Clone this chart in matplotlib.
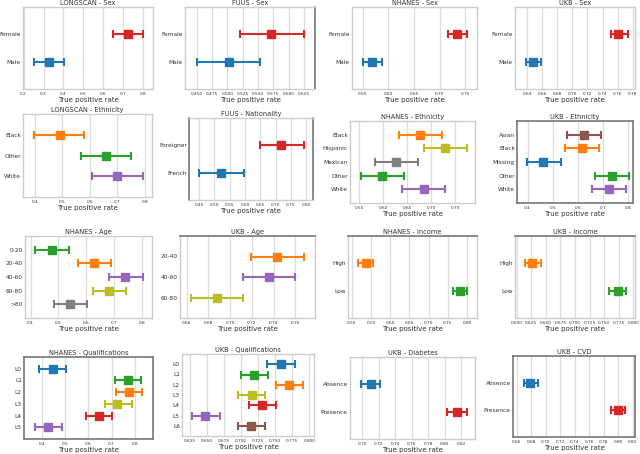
import matplotlib
matplotlib.use('Agg')
import matplotlib.pyplot as plt

# --- data (centre, lower, upper of true positive rate) ---
longscan_sex_labels = ['Female', 'Male']
longscan_sex_mid = [0.724, 0.326]
longscan_sex_lo = [0.647, 0.252]
longscan_sex_hi = [0.799, 0.402]
longscan_sex_ticks = ['0.2', '0.3', '0.4', '0.5', '0.6', '0.7', '0.8']

fuus_sex_labels = ['Female', 'Male']
fuus_sex_mid = [0.572, 0.502]
fuus_sex_lo = [0.521, 0.450]
fuus_sex_hi = [0.625, 0.553]
fuus_sex_ticks = ['0.450', '0.475', '0.500', '0.525', '0.550', '0.575', '0.600', '0.625']

nhanes_sex_labels = ['Female', 'Male']
nhanes_sex_mid = [0.733, 0.569]
nhanes_sex_lo = [0.716, 0.550]
nhanes_sex_hi = [0.753, 0.588]
nhanes_sex_ticks = ['0.55', '0.60', '0.65', '0.70', '0.75']

ukb_sex_labels = ['Female', 'Male']
ukb_sex_mid = [0.761, 0.648]
ukb_sex_lo = [0.751, 0.638]
ukb_sex_hi = [0.774, 0.659]
ukb_sex_ticks = ['0.64', '0.66', '0.68', '0.70', '0.72', '0.74', '0.76', '0.78']

longscan_eth_labels = ['Black', 'Other', 'White']
longscan_eth_mid = [0.491, 0.660, 0.701]
longscan_eth_lo = [0.398, 0.568, 0.608]
longscan_eth_hi = [0.579, 0.751, 0.794]
longscan_eth_ticks = ['0.4', '0.5', '0.6', '0.7', '0.8']

fuus_nat_labels = ['Foreigner', 'French']
fuus_nat_mid = [0.718, 0.523]
fuus_nat_lo = [0.648, 0.450]
fuus_nat_hi = [0.791, 0.596]
fuus_nat_ticks = ['0.45', '0.50', '0.55', '0.60', '0.65', '0.70', '0.75', '0.80']

nhanes_eth_labels = ['Black', 'Hispanic', 'Mexican', 'Other', 'White']
nhanes_eth_mid = [0.677, 0.729, 0.627, 0.598, 0.684]
nhanes_eth_lo = [0.632, 0.684, 0.582, 0.553, 0.639]
nhanes_eth_hi = [0.722, 0.774, 0.672, 0.644, 0.729]
nhanes_eth_ticks = ['0.55', '0.60', '0.65', '0.70', '0.75']

ukb_eth_labels = ['Asian', 'Black', 'Missing', 'Other', 'White']
ukb_eth_mid = [0.624, 0.617, 0.463, 0.735, 0.722]
ukb_eth_lo = [0.555, 0.549, 0.397, 0.667, 0.654]
ukb_eth_hi = [0.693, 0.684, 0.532, 0.803, 0.790]
ukb_eth_ticks = ['0.4', '0.5', '0.6', '0.7', '0.8']

nhanes_age_labels = ['0-20', '20-40', '40-60', '60-80', '>80']
nhanes_age_mid = [0.478, 0.629, 0.740, 0.682, 0.543]
nhanes_age_lo = [0.416, 0.569, 0.680, 0.623, 0.483]
nhanes_age_hi = [0.538, 0.689, 0.802, 0.743, 0.603]
nhanes_age_ticks = ['0.4', '0.5', '0.6', '0.7', '0.8']

ukb_age_labels = ['20-40', '40-60', '60-80']
ukb_age_mid = [0.743, 0.736, 0.688]
ukb_age_lo = [0.719, 0.712, 0.664]
ukb_age_hi = [0.768, 0.760, 0.712]
ukb_age_ticks = ['0.66', '0.68', '0.70', '0.72', '0.74', '0.76']

nhanes_inc_labels = ['High', 'Low']
nhanes_inc_mid = [0.536, 0.782]
nhanes_inc_lo = [0.517, 0.763]
nhanes_inc_hi = [0.555, 0.800]
nhanes_inc_ticks = ['0.50', '0.55', '0.60', '0.65', '0.70', '0.75', '0.80']

ukb_inc_labels = ['High', 'Low']
ukb_inc_mid = [0.627, 0.773]
ukb_inc_lo = [0.614, 0.759]
ukb_inc_hi = [0.642, 0.787]
ukb_inc_ticks = ['0.600', '0.625', '0.650', '0.675', '0.700', '0.725', '0.750', '0.775', '0.800']

nhanes_qual_labels = ['L0', 'L1', 'L2', 'L3', 'L4', 'L5']
nhanes_qual_mid = [0.445, 0.771, 0.776, 0.725, 0.646, 0.426]
nhanes_qual_lo = [0.387, 0.714, 0.718, 0.671, 0.591, 0.368]
nhanes_qual_hi = [0.502, 0.829, 0.833, 0.786, 0.702, 0.485]
nhanes_qual_ticks = ['0.4', '0.5', '0.6', '0.7', '0.8']

ukb_qual_labels = ['L0', 'L1', 'L2', 'L3', 'L4', 'L5', 'L6']
ukb_qual_mid = [0.759, 0.720, 0.771, 0.716, 0.731, 0.648, 0.715]
ukb_qual_lo = [0.739, 0.700, 0.751, 0.696, 0.712, 0.628, 0.696]
ukb_qual_hi = [0.779, 0.740, 0.791, 0.736, 0.751, 0.669, 0.736]
ukb_qual_ticks = ['0.625', '0.650', '0.675', '0.700', '0.725', '0.750', '0.775', '0.800']

ukb_diab_labels = ['Absence', 'Presence']
ukb_diab_mid = [0.710, 0.815]
ukb_diab_lo = [0.698, 0.803]
ukb_diab_hi = [0.722, 0.827]
ukb_diab_ticks = ['0.70', '0.72', '0.74', '0.76', '0.78', '0.80', '0.82']

ukb_cvd_labels = ['Absence', 'Presence']
ukb_cvd_mid = [0.679, 0.799]
ukb_cvd_lo = [0.670, 0.790]
ukb_cvd_hi = [0.689, 0.809]
ukb_cvd_ticks = ['0.66', '0.68', '0.70', '0.72', '0.74', '0.76', '0.78', '0.80', '0.82']

# --- styles ---
BLUE, ORANGE, GREEN, RED = '#1f77b4', '#ff7f0e', '#2ca02c', '#d62728'
PURPLE, BROWN, GRAY, OLIVE = '#9467bd', '#8c564b', '#7f7f7f', '#bcbd22'

W, H = 640, 454

# title, labels, mid, lo, hi, ticks, colours, xlim, box (left, top, right, bottom px), dark spines
panels = [
    ('LONGSCAN - Sex', longscan_sex_labels, longscan_sex_mid, longscan_sex_lo, longscan_sex_hi,
     longscan_sex_ticks, [RED, BLUE], (0.197, 0.85), (23, 7, 153, 89), []),
    ('FUUS - Sex', fuus_sex_labels, fuus_sex_mid, fuus_sex_lo, fuus_sex_hi,
     fuus_sex_ticks, [RED, BLUE], (0.431, 0.643), (185, 7, 315, 89), ['right']),
    ('NHANES - Sex', nhanes_sex_labels, nhanes_sex_mid, nhanes_sex_lo, nhanes_sex_hi,
     nhanes_sex_ticks, [RED, BLUE], (0.529, 0.773), (352, 7, 477, 89), []),
    ('UKB - Sex', ukb_sex_labels, ukb_sex_mid, ukb_sex_lo, ukb_sex_hi,
     ukb_sex_ticks, [RED, BLUE], (0.624, 0.783), (515, 7, 635, 89), []),
    ('LONGSCAN - Ethnicity', longscan_eth_labels, longscan_eth_mid, longscan_eth_lo, longscan_eth_hi,
     longscan_eth_ticks, [ORANGE, GREEN, PURPLE], (0.357, 0.827), (23, 114, 152, 197), []),
    ('FUUS - Nationality', fuus_nat_labels, fuus_nat_mid, fuus_nat_lo, fuus_nat_hi,
     fuus_nat_ticks, [RED, BLUE], (0.417, 0.822), (189, 118, 313, 200), ['left', 'right']),
    ('NHANES - Ethnicity', nhanes_eth_labels, nhanes_eth_mid, nhanes_eth_lo, nhanes_eth_hi,
     nhanes_eth_ticks, [ORANGE, OLIVE, GRAY, GREEN, PURPLE], (0.531, 0.791), (350, 121, 475, 203), []),
    ('UKB - Ethnicity', ukb_eth_labels, ukb_eth_mid, ukb_eth_lo, ukb_eth_hi,
     ukb_eth_ticks, [BROWN, ORANGE, BLUE, GREEN, PURPLE], (0.358, 0.818), (517, 121, 633, 203),
     ['left', 'right', 'top', 'bottom']),
    ('NHANES - Age', nhanes_age_labels, nhanes_age_mid, nhanes_age_lo, nhanes_age_hi,
     nhanes_age_ticks, [GREEN, ORANGE, PURPLE, OLIVE, GRAY], (0.380, 0.836), (25, 236, 152, 318), []),
    ('UKB - Age', ukb_age_labels, ukb_age_mid, ukb_age_lo, ukb_age_hi,
     ukb_age_ticks, [ORANGE, PURPLE, OLIVE], (0.654, 0.778), (180, 236, 315, 318), ['top']),
    ('NHANES - Income', nhanes_inc_labels, nhanes_inc_mid, nhanes_inc_lo, nhanes_inc_hi,
     nhanes_inc_ticks, [ORANGE, GREEN], (0.490, 0.826), (348, 236, 477, 318), ['top']),
    ('UKB - Income', ukb_inc_labels, ukb_inc_mid, ukb_inc_lo, ukb_inc_hi,
     ukb_inc_ticks, [ORANGE, GREEN], (0.597, 0.803), (515, 236, 635, 318), ['top']),
    ('NHANES - Qualifications', nhanes_qual_labels, nhanes_qual_mid, nhanes_qual_lo, nhanes_qual_hi,
     nhanes_qual_ticks, [BLUE, GREEN, ORANGE, OLIVE, RED, PURPLE], (0.321, 0.879), (24, 357, 153, 439),
     ['left', 'right', 'top', 'bottom']),
    ('UKB - Qualifications', ukb_qual_labels, ukb_qual_mid, ukb_qual_lo, ukb_qual_hi,
     ukb_qual_ticks, [BLUE, GREEN, ORANGE, OLIVE, RED, PURPLE, BROWN], (0.614, 0.807), (182, 354, 314, 436), []),
    ('UKB - Diabetes', ukb_diab_labels, ukb_diab_mid, ukb_diab_lo, ukb_diab_hi,
     ukb_diab_ticks, [BLUE, RED], (0.685, 0.837), (350, 357, 475, 439), []),
    ('UKB - CVD', ukb_cvd_labels, ukb_cvd_mid, ukb_cvd_lo, ukb_cvd_hi,
     ukb_cvd_ticks, [BLUE, RED], (0.655, 0.823), (513, 356, 635, 437), ['left', 'right', 'top', 'bottom']),
]

plt.rcParams['font.family'] = ['DejaVu Sans']
fig = plt.figure(figsize=(W / 100, H / 100), dpi=100)
fig.patch.set_facecolor('white')

for title, labels, mid, lo, hi, ticks, colours, xlim, box, dark in panels:
    l, t, r, b = box
    ax = fig.add_axes([l / W, 1 - b / H, (r - l) / W, (b - t) / H])
    for i, (m, a, z, c) in enumerate(zip(mid, lo, hi, colours)):
        ax.errorbar(m, i, xerr=[[m - a], [z - m]], fmt='s', color=c, ecolor=c,
                    markersize=5.5, elinewidth=1.5, capsize=2.6, capthick=1.5, zorder=3)
    ax.set_yticks(range(len(labels)))
    ax.set_yticklabels(labels, fontsize=4.2, color='#333333')
    ax.set_ylim(len(labels), -1)
    tv = [float(s) for s in ticks]
    ax.set_xticks(tv)
    ax.set_xticklabels(ticks, fontsize=3.1, color='#333333')
    ax.set_xlim(*xlim)
    ax.grid(axis='x', color='#dddddd', linewidth=0.9, zorder=0)
    ax.set_axisbelow(True)
    ax.tick_params(axis='x', length=0, pad=2)
    ax.tick_params(axis='y', length=1.0, width=0.5, color='#999999', pad=0.6)
    ax.set_title(title, fontsize=4.8, color='#333333', pad=1.5)
    ax.set_xlabel('True positive rate', fontsize=5.0, color='#333333', labelpad=0.8)
    for side, sp in ax.spines.items():
        if side in dark:
            sp.set_color('#777777')
            sp.set_linewidth(1.2)
        else:
            sp.set_color('#cccccc')
            sp.set_linewidth(1.0)

fig.savefig('out.png', dpi=100, facecolor='white')
